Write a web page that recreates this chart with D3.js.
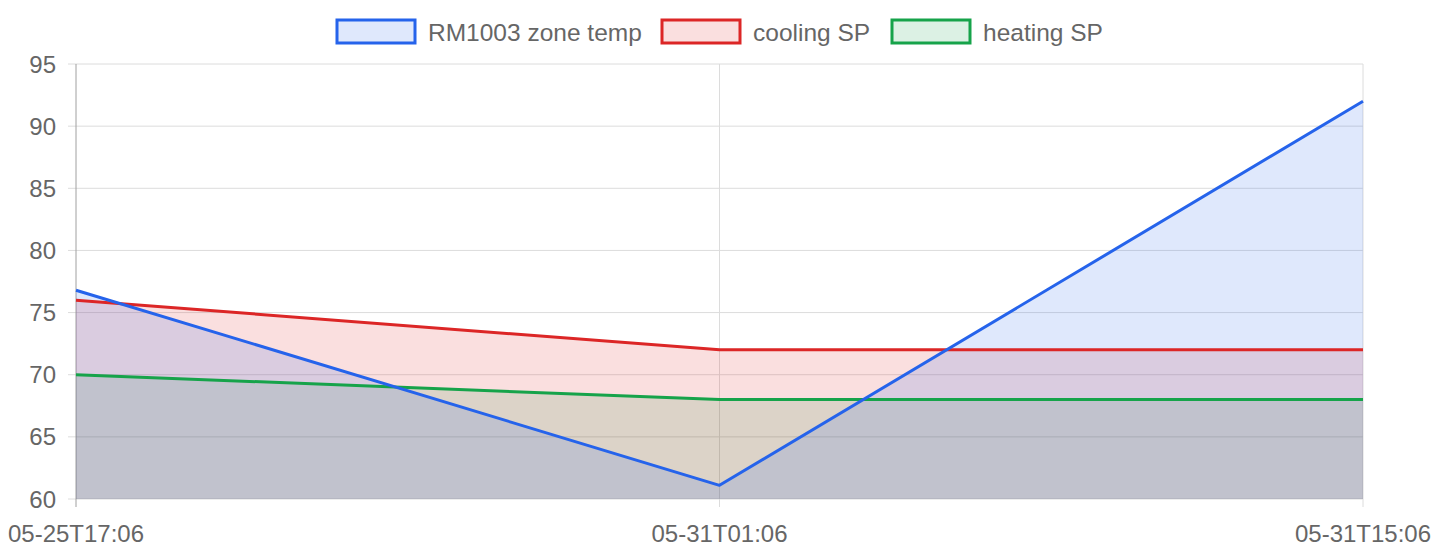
<!DOCTYPE html>
<html>
<head>
<meta charset="utf-8">
<script src="https://cdn.jsdelivr.net/npm/d3@7"></script>
<style>
  body { margin: 0; background: #fff; }
  svg { display: block; font-family: "Liberation Sans", Arial, sans-serif; }
</style>
</head>
<body>
<svg id="chart" width="1440" height="560"></svg>
<script>
// data
var labels = ["05-25T17:06", "05-31T01:06", "05-31T15:06"];
var zoneTemp = [76.8, 61.1, 92];
var coolingSP = [76, 72, 72];
var heatingSP = [70, 68, 68];
var yTicks = [60, 65, 70, 75, 80, 85, 90, 95];

function drawChart() {
    var series = [
        { name: "RM1003 zone temp", values: zoneTemp, color: "#2563eb" },
        { name: "cooling SP", values: coolingSP, color: "#dc2626" },
        { name: "heating SP", values: heatingSP, color: "#16a34a" }
    ];

    var svg = d3.select("#chart"),
        plotLeft = 76, plotRight = 1363, plotTop = 64, plotBottom = 499;

    var x = d3.scalePoint().domain(labels).range([plotLeft, plotRight]);
    var y = d3.scaleLinear().domain([60, 95]).range([plotBottom, plotTop]);

    // horizontal grid + ticks
    svg.append("g")
        .selectAll("line")
        .data(yTicks)
        .enter()
        .append("line")
        .attr("x1", plotLeft - 8)
        .attr("x2", plotRight)
        .attr("y1", function (d) { return y(d); })
        .attr("y2", function (d) { return y(d); })
        .style("stroke", "#dcdcdc")
        .style("stroke-width", 1);

    // vertical grid
    svg.append("g")
        .selectAll("line")
        .data(labels)
        .enter()
        .append("line")
        .attr("x1", function (d) { return x(d); })
        .attr("x2", function (d) { return x(d); })
        .attr("y1", plotTop)
        .attr("y2", plotBottom + 8)
        .style("stroke", function (d, i) { return i == 0 ? "#a0a0a0" : "#dcdcdc"; })
        .style("stroke-width", 1);

    // y labels
    svg.append("g")
        .selectAll("text")
        .data(yTicks)
        .enter()
        .append("text")
        .attr("x", 56)
        .attr("y", function (d) { return y(d); })
        .attr("dy", "0.36em")
        .attr("text-anchor", "end")
        .style("font-size", "24px")
        .style("fill", "#666")
        .text(function (d) { return d; });

    // x labels
    svg.append("g")
        .selectAll("text")
        .data(labels)
        .enter()
        .append("text")
        .attr("x", function (d) { return x(d); })
        .attr("y", 542)
        .attr("text-anchor", "middle")
        .style("font-size", "24px")
        .style("fill", "#666")
        .text(function (d) { return d; });

    var area = d3.area()
        .x(function (d, i) { return x(labels[i]); })
        .y0(y(60))
        .y1(function (d) { return y(d); });

    var line = d3.line()
        .x(function (d, i) { return x(labels[i]); })
        .y(function (d) { return y(d); });

    // fills, last dataset first
    series.slice().reverse().forEach(function (s) {
        svg.append("path")
            .datum(s.values)
            .attr("d", area)
            .style("fill", s.color)
            .style("fill-opacity", 0.15);
    });

    series.slice().reverse().forEach(function (s) {
        svg.append("path")
            .datum(s.values)
            .attr("d", line)
            .style("fill", "none")
            .style("stroke", s.color)
            .style("stroke-width", 3)
            .style("stroke-linejoin", "round");
    });

    // legend
    var legendX = [337, 662, 892];
    var legend = svg.append("g");
    series.forEach(function (s, i) {
        legend.append("rect")
            .attr("x", legendX[i])
            .attr("y", 20)
            .attr("width", 78)
            .attr("height", 23)
            .style("fill", s.color)
            .style("fill-opacity", 0.15)
            .style("stroke", s.color)
            .style("stroke-width", 3);
        legend.append("text")
            .attr("x", legendX[i] + 91)
            .attr("y", 32)
            .attr("dy", "0.36em")
            .style("font-size", "24.5px")
            .style("fill", "#666")
            .text(s.name);
    });
}

drawChart();
</script>
</body>
</html>
